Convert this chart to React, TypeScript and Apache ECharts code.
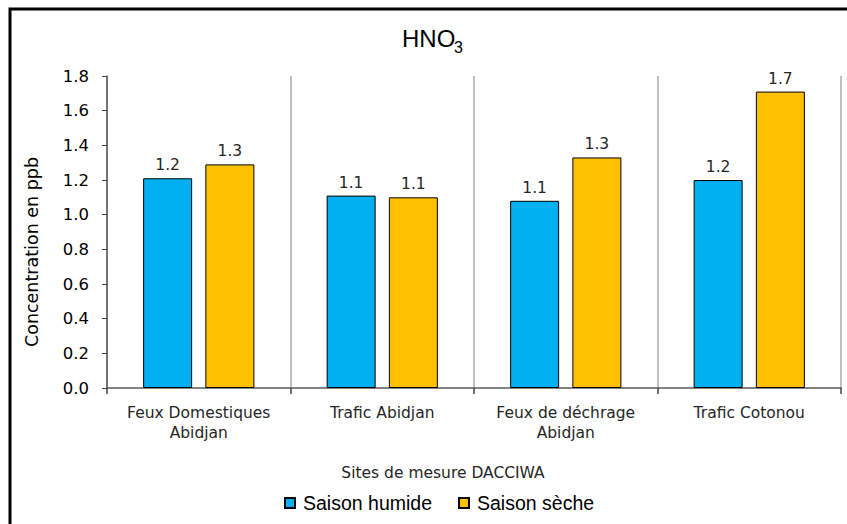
import React, { useEffect, useRef } from "react";
import * as echarts from "echarts";

const categories = ["Feux Domestiques\nAbidjan", "Trafic Abidjan", "Feux de déchrage\nAbidjan", "Trafic Cotonou"];
const saisonHumide = [1.21, 1.11, 1.08, 1.2];
const saisonSeche = [1.29, 1.1, 1.33, 1.71];
const seriesNames = ["Saison humide", "Saison sèche"];
const yTicks = [0, 0.2, 0.4, 0.6, 0.8, 1.0, 1.2, 1.4, 1.6, 1.8];

const FONT = "DejaVu Sans";

export default function App() {
  const ref = useRef<HTMLDivElement>(null);
  useEffect(() => {
    const chart = echarts.init(ref.current!, null, { renderer: "svg" });
    const labelCfg = {
      show: true,
      position: "top",
      distance: 5,
      fontFamily: FONT,
      fontSize: 15.5,
      color: "#262626",
      formatter: (p: any) => Number(p.value).toFixed(1),
    };
    chart.setOption({
      animation: false,
      backgroundColor: "#ffffff",
      legend: {
        data: seriesNames,
        left: 284,
        top: 493,
        padding: 0,
        itemWidth: 10,
        itemHeight: 10,
        itemGap: 26,
        icon: "rect",
        textStyle: { fontFamily: "Liberation Sans", fontSize: 19.5, color: "#000", padding: [0, 0, 0, 3] },
      },
      grid: { left: 107, right: 6, top: 76, bottom: 136, containLabel: false },
      xAxis: {
        type: "category",
        data: categories,
        axisLine: { lineStyle: { color: "#595959", width: 1.5 } },
        axisTick: { show: true, interval: 0, length: 6, lineStyle: { color: "#404040", width: 1.5 } },
        axisLabel: { interval: 0, fontFamily: FONT, fontSize: 15.5, color: "#262626", margin: 15, lineHeight: 20 },
        splitLine: { show: true, interval: 0, lineStyle: { color: "#bfbfbf", width: 2 } },
      },
      yAxis: {
        type: "value",
        min: yTicks[0],
        max: yTicks[yTicks.length - 1],
        interval: 0.2,
        axisLine: { show: true, lineStyle: { color: "#595959", width: 1.5 } },
        axisTick: { show: true, length: 5, lineStyle: { color: "#404040" } },
        axisLabel: { fontFamily: FONT, fontSize: 16.5, color: "#000", margin: 18, formatter: (v: number) => v.toFixed(1) },
        splitLine: { show: false },
      },
      series: [
        {
          name: seriesNames[0],
          type: "bar",
          data: saisonHumide,
          barWidth: 49,
          barGap: "27%",
          itemStyle: { color: "#00B0F0", borderColor: "#000", borderWidth: 1 },
          label: labelCfg,
        },
        {
          name: seriesNames[1],
          type: "bar",
          data: saisonSeche,
          barWidth: 49,
          itemStyle: { color: "#FFC000", borderColor: "#000", borderWidth: 1 },
          label: labelCfg,
        },
      ],
      graphic: [
        {
          type: "text",
          x: 402,
          y: 38,
          style: { text: "HNO", fontFamily: "Liberation Sans", fontSize: 24, fill: "#000", textAlign: "left", textVerticalAlign: "middle" },
        },
        {
          type: "text",
          x: 454,
          y: 47,
          style: { text: "3", fontFamily: "Liberation Sans", fontSize: 16, fill: "#000", textAlign: "left", textVerticalAlign: "middle" },
        },
        {
          type: "text",
          x: 32,
          y: 252,
          rotation: Math.PI / 2,
          style: { text: "Concentration en ppb", fontFamily: FONT, fontSize: 17.5, fill: "#000", textAlign: "center", textVerticalAlign: "middle" },
        },
        {
          type: "text",
          x: 443,
          y: 473,
          style: { text: "Sites de mesure DACCIWA", fontFamily: FONT, fontSize: 15.5, fill: "#262626", textAlign: "center", textVerticalAlign: "middle" },
        },
        {
          type: "polyline",
          shape: { points: [[10, 524], [10, 9], [847, 9]] },
          style: { stroke: "#000", lineWidth: 3, fill: null },
          z: 100,
        },
      ],
    });
    return () => chart.dispose();
  }, []);
  return <div ref={ref} style={{ position: "absolute", left: 0, top: 0, width: 847, height: 524 }} />;
}
